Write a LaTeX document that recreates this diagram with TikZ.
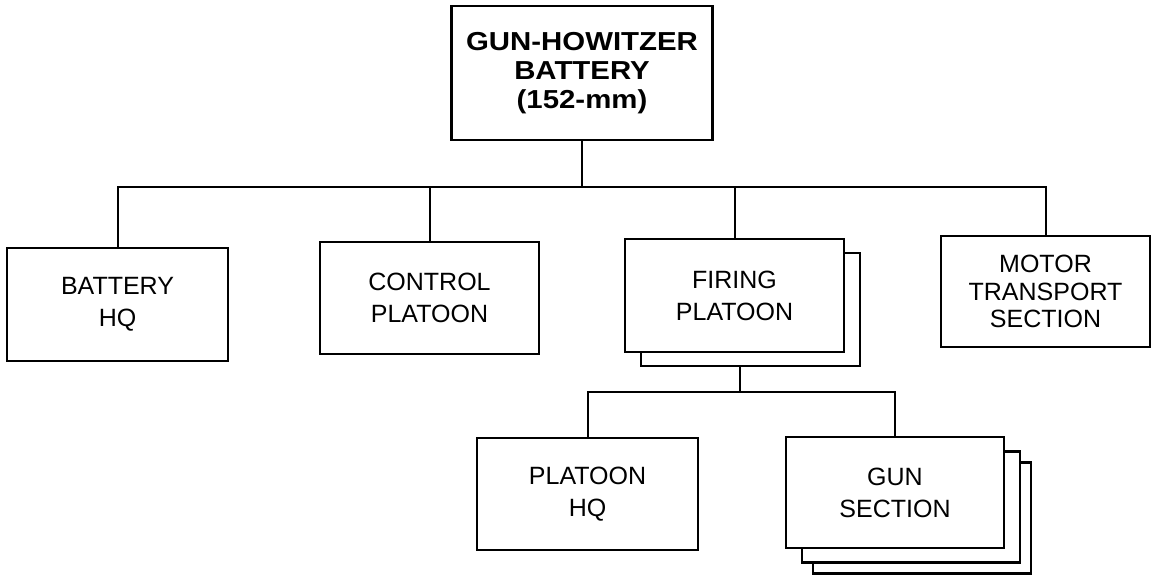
\documentclass[tikz,border=0pt]{standalone}
\usepackage{fontspec}
\setmainfont{Liberation Sans}
\newfontfamily\headfont[FakeStretch=1.13]{Liberation Sans}
\usetikzlibrary{calc}
\tikzstyle{unit}  = [draw=black, line width=2.2pt, fill=white, align=center, inner sep=0pt, font=\fontsize{25}{32}\selectfont]
\tikzstyle{link}  = [draw=black, line width=2pt]

\begin{document}
\begin{tikzpicture}[x=1pt,y=-1pt]
        \useasboundingbox (0,0) rectangle (1158,575);
        % copies stacked behind
        \node[unit, minimum width=219, minimum height=113] (fire2) at (750.5,309.5) {};
        \node[unit, minimum width=218, minimum height=111] (gun3) at (922,518) {};
        \node[unit, minimum width=218, minimum height=111] (gun2) at (911,507) {};

        \node[unit, minimum width=261, minimum height=134, font=\headfont\bfseries\fontsize{26}{29}\selectfont] (bty) at (582,73) {GUN-HOWITZER\\BATTERY\\(152-mm)};
        \node[unit, minimum width=221, minimum height=113] (bhq) at (117.5,304.5) {BATTERY\\HQ};
        \node[unit, minimum width=219, minimum height=112] (ctl) at (429.5,298) {CONTROL\\PLATOON};
        \node[unit, minimum width=219, minimum height=113] (fire) at (734.5,295.5) {FIRING\\PLATOON};
        \node[unit, minimum width=209, minimum height=111, font=\fontsize{25}{27.5}\selectfont] (mts) at (1045.5,291.5) {MOTOR\\TRANSPORT\\SECTION};
        \node[unit, minimum width=221, minimum height=112] (phq) at (587.5,494) {PLATOON\\HQ};
        \node[unit, minimum width=218, minimum height=111] (gun) at (895,492.5) {GUN\\SECTION};

        \coordinate (bus) at ($(bty.south)+(0,46)$);
        \coordinate (sub) at (740,392);

        \draw[link] (bty.south) -- (bus);
        \draw[link] (bhq.north) |- (bus) -| (mts.north);
        \draw[link] (ctl.north) |- (bus);
        \draw[link] (fire.north) |- (bus);
        \draw[link] (fire2.south -| sub) -- (sub);
        \draw[link] (phq.north) |- (sub) -| (gun.north);
    \end{tikzpicture}
\end{document}
